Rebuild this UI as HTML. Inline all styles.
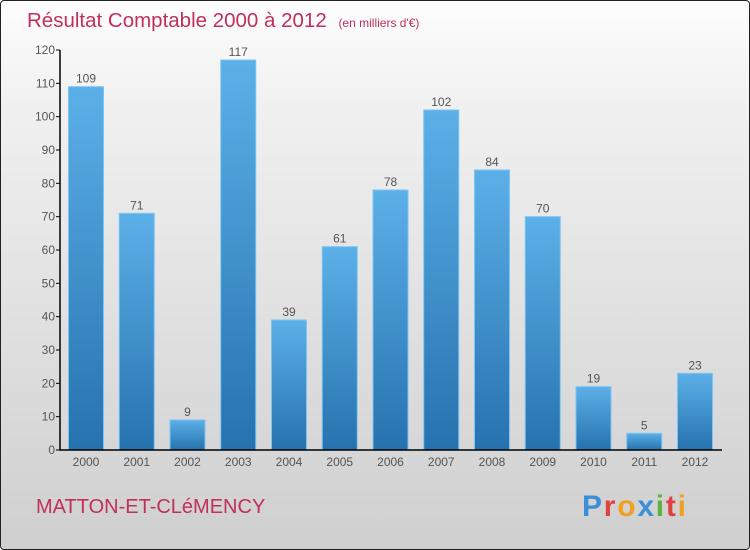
<!DOCTYPE html>
<html><head><meta charset="utf-8"><style>
body{margin:0;width:750px;height:550px;overflow:hidden;font-family:"Liberation Sans",sans-serif}
#wrap{position:absolute;left:0;top:0;width:748px;height:548px;border:1px solid #222;border-radius:4px;background:linear-gradient(#fdfdfd,#f0f0f0 20%,#cfcfcf)}
</style></head><body>
<div id="wrap">
<svg width="750" height="550" style="position:absolute;left:-1px;top:-1px">
<defs><linearGradient id="bg" x1="0" y1="0" x2="0" y2="1"><stop offset="0" stop-color="#5cb0e8"/><stop offset="1" stop-color="#2672ae"/></linearGradient></defs>
<text x="27" y="27" font-size="20.5" fill="#c0305a">Résultat Comptable 2000 à 2012 <tspan font-size="12" dx="6">(en milliers d'€)</tspan></text>
<g id="plot"></g>
<text x="36" y="513" font-size="20" fill="#c0305a">MATTON-ET-CLéMENCY</text>
<text x="582" y="516" font-size="30" font-weight="bold" textLength="104"><tspan fill="#3a8fd8">P</tspan><tspan fill="#e04040">r</tspan><tspan fill="#f0a020">o</tspan><tspan fill="#3a8fd8">x</tspan><tspan fill="#60b040">i</tspan><tspan fill="#e04040">t</tspan><tspan fill="#f0a020">i</tspan></text>
</svg></div>
<script>
const years=["2000","2001","2002","2003","2004","2005","2006","2007","2008","2009","2010","2011","2012"];
const values=[109,71,9,117,39,61,78,102,84,70,19,5,23];
const ticks=[0,10,20,30,40,50,60,70,80,90,100,110,120];
const g=document.getElementById('plot');const NS='http://www.w3.org/2000/svg';
const y=v=>450-v*400/120, x=i=>86+i*50.75;
function mk(t,a,txt){const e=document.createElementNS(NS,t);for(const k in a)e.setAttribute(k,a[k]);if(txt!==undefined)e.textContent=txt;g.appendChild(e);return e;}
ticks.forEach(t=>{const l=mk('line',{x1:56,x2:60,y1:y(t),y2:y(t),stroke:'#000'});


const tx=mk('text',{x:55,y:y(t)+4,'font-size':12,fill:'#555','text-anchor':'end'},t);

});
values.forEach((v,i)=>{const r=mk('rect',{x:x(i)-17.5,y:y(v),width:35,height:450-y(v),fill:'url(#bg)',stroke:'#7cc4f4','stroke-width':1});


const vl=mk('text',{x:x(i),y:y(v)-4,'font-size':12,fill:'#555','text-anchor':'middle'},v);


const xl=mk('text',{x:x(i),y:466,'font-size':12,fill:'#555','text-anchor':'middle'},years[i]);

});
const ax=mk('path',{d:'M60 50V450H722',stroke:'#000','stroke-width':1.5,fill:'none'});


</script></body></html>
